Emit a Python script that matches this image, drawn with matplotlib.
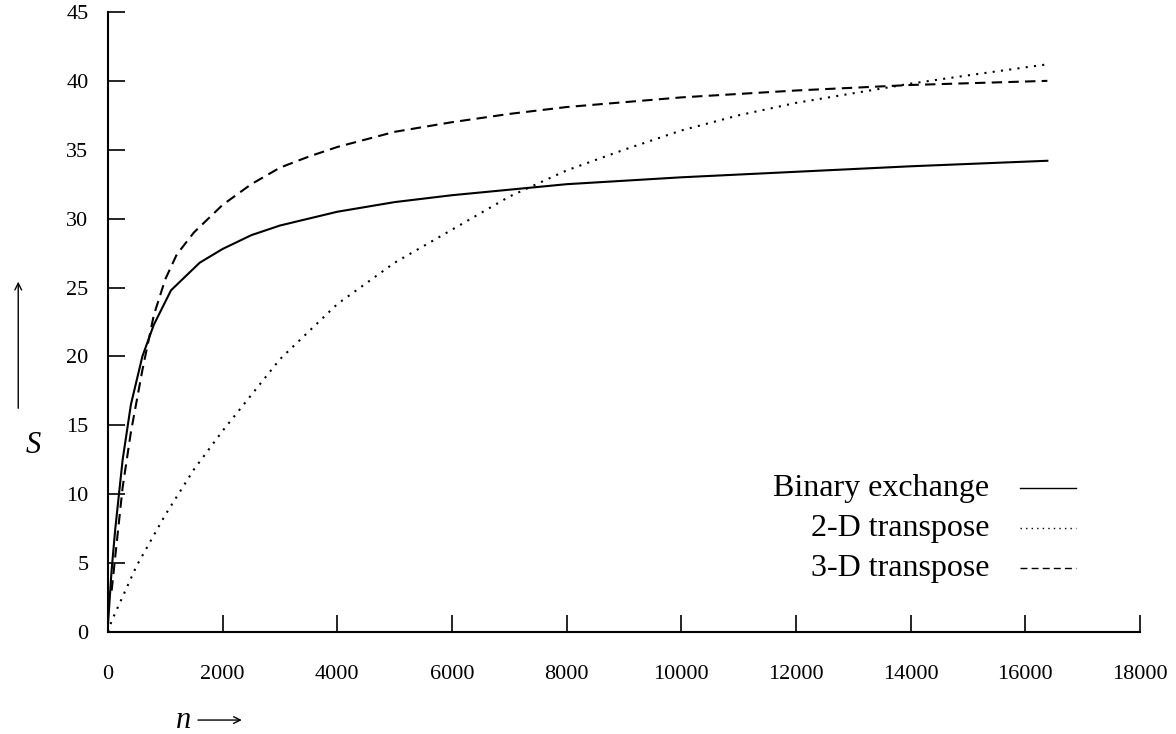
import matplotlib
matplotlib.use("Agg")
import matplotlib.pyplot as plt

plt.rcParams["font.family"] = ["Liberation Serif", "DejaVu Serif"]

# problem size n and speedup S
n_binary = [0, 64, 128, 256, 400, 600, 800, 1100, 1600, 2000, 2500, 3000, 3500, 4000,
            5000, 6000, 7000, 8000, 10000, 12000, 14000, 16384]
s_binary = [0.5, 4.5, 7.5, 12.5, 16.5, 20.0, 22.3, 24.8, 26.8, 27.8, 28.8, 29.5, 30.0, 30.5,
            31.2, 31.7, 32.1, 32.5, 33.0, 33.4, 33.8, 34.2]

n_2d = [0, 64, 500, 1000, 1500, 2000, 3000, 4000, 5000, 6000, 7000, 8000, 9000, 10000,
        11000, 12000, 13000, 14000, 15000, 16384]
s_2d = [0.0, 0.8, 4.8, 8.5, 11.8, 14.6, 19.8, 23.8, 26.8, 29.2, 31.6, 33.5, 35.0, 36.4,
        37.5, 38.4, 39.1, 39.8, 40.4, 41.2]

n_3d = [64, 128, 256, 400, 600, 800, 1000, 1200, 1500, 2000, 2500, 3000, 3500, 4000,
        5000, 6000, 7000, 8000, 10000, 12000, 14000, 16384]
s_3d = [3.0, 5.5, 10.5, 14.5, 19.0, 23.0, 25.6, 27.4, 29.0, 31.0, 32.5, 33.7, 34.5, 35.2,
        36.3, 37.0, 37.6, 38.1, 38.8, 39.3, 39.7, 40.0]

labels = ["Binary exchange", "2-D transpose", "3-D transpose"]
styles = ["-", (0, (1, 3)), (0, (5, 3))]

fig = plt.figure(figsize=(11.76, 7.34), dpi=100)
ax = fig.add_axes([0.0918, 0.139, 0.8776, 0.8447])

for nn, ss, ls in zip([n_binary, n_2d, n_3d], [s_binary, s_2d, s_3d], styles):
    ax.plot(nn, ss, color="black", linestyle=ls, linewidth=1.5)

ax.set_xlim(0, 18000)
ax.set_ylim(0, 45)
ax.set_xticks(range(0, 18001, 2000))
ax.set_yticks(range(0, 46, 5))
ax.spines["top"].set_visible(False)
ax.spines["right"].set_visible(False)
ax.spines["left"].set_linewidth(1.5)
ax.spines["bottom"].set_linewidth(1.5)
ax.tick_params(axis="both", direction="in", length=12, width=1.2, labelsize=16)
ax.tick_params(axis="x", pad=24)
ax.tick_params(axis="y", pad=14)

# legend drawn by hand: labels right-aligned, sample line to the right
for i, (lab, ls) in enumerate(zip(labels, styles)):
    y = 0.232 - i * 0.0645
    ax.text(0.854, y, lab, transform=ax.transAxes, ha="right", va="center", fontsize=23)
    ax.plot([0.884, 0.938], [y, y], transform=ax.transAxes, color="black",
            linestyle=ls, linewidth=1.0)

# axis labels with arrows
fig.text(0.028, 0.393, "S", fontsize=22, style="italic", ha="center", va="center")
fig.add_artist(matplotlib.patches.FancyArrowPatch(
    (0.0155, 0.44), (0.0155, 0.62), transform=fig.transFigure,
    arrowstyle="->", mutation_scale=12, color="black", linewidth=1.0))
fig.text(0.156, 0.019, "n", fontsize=22, style="italic", ha="center", va="center")
fig.add_artist(matplotlib.patches.FancyArrowPatch(
    (0.166, 0.019), (0.208, 0.019), transform=fig.transFigure,
    arrowstyle="->", mutation_scale=12, color="black", linewidth=1.0))

fig.savefig("out.png", dpi=100)
